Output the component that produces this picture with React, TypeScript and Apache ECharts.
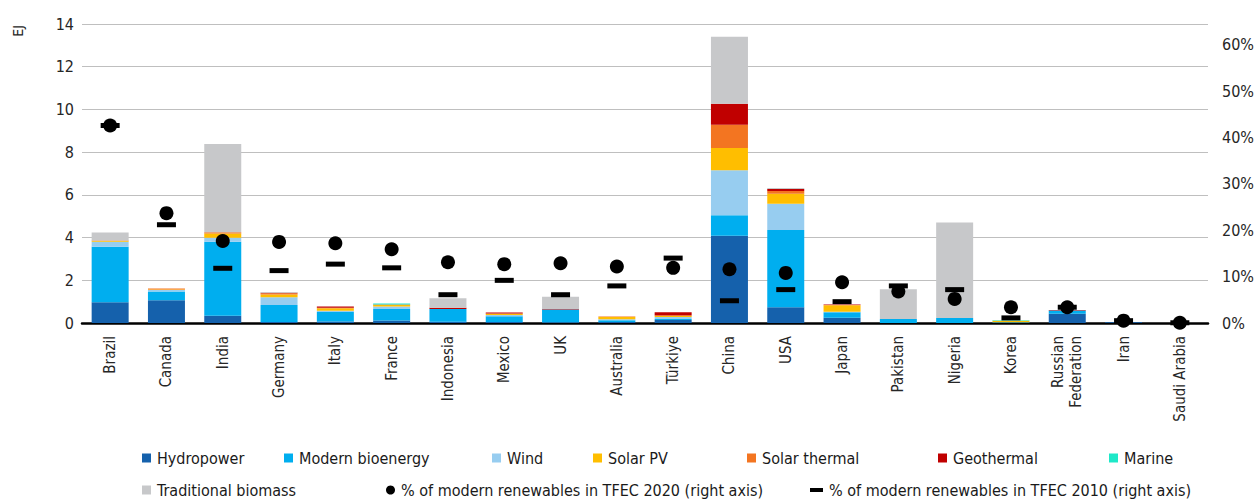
import React, { useEffect, useRef } from 'react';
import * as echarts from 'echarts';

const categories = ['Brazil', 'Canada', 'India', 'Germany', 'Italy', 'France', 'Indonesia', 'Mexico', 'UK', 'Australia', 'Türkiye', 'China', 'USA', 'Japan', 'Pakistan', 'Nigeria', 'Korea', 'Russian\nFederation', 'Iran', 'Saudi Arabia'];

const hydropower = [0.97, 1.07, 0.34, 0.05, 0.07, 0.12, 0.06, 0.05, 0.03, 0.05, 0.14, 4.09, 0.74, 0.25, 0, 0, 0.01, 0.43, 0.04, 0];
const modernBioenergy = [2.6, 0.4, 3.46, 0.79, 0.44, 0.54, 0.6, 0.27, 0.6, 0.08, 0.05, 0.95, 3.61, 0.25, 0.19, 0.23, 0.03, 0.15, 0, 0];
const wind = [0.23, 0.08, 0.19, 0.36, 0.06, 0.11, 0, 0.06, 0, 0.05, 0.09, 2.11, 1.23, 0.03, 0, 0, 0, 0, 0, 0];
const solarPV = [0.04, 0.02, 0.2, 0.13, 0.12, 0.08, 0, 0.05, 0, 0.1, 0.05, 1.04, 0.47, 0.3, 0, 0, 0.06, 0, 0, 0];
const solarThermal = [0.02, 0.05, 0.06, 0.06, 0.02, 0.01, 0, 0.01, 0, 0.03, 0.03, 1.09, 0.13, 0.01, 0, 0, 0, 0, 0, 0];
const geothermal = [0, 0, 0, 0.03, 0.06, 0.01, 0.05, 0.05, 0.02, 0, 0.14, 0.99, 0.09, 0.03, 0, 0, 0, 0.03, 0, 0];
const marine = [0, 0, 0, 0, 0, 0.04, 0, 0, 0, 0, 0, 0, 0, 0, 0, 0, 0.03, 0, 0, 0];
const traditionalBiomass = [0.38, 0, 4.13, 0.03, 0, 0, 0.45, 0, 0.58, 0, 0, 3.13, 0.05, 0, 1.39, 4.48, 0, 0, 0, 0];

const share2020 = [42.6, 23.7, 17.7, 17.5, 17.2, 15.9, 13.1, 12.7, 12.9, 12.2, 11.9, 11.6, 10.8, 8.8, 6.8, 5.2, 3.4, 3.4, 0.5, 0.05];
const share2010 = [42.6, 21.2, 11.8, 11.3, 12.7, 11.9, 6.1, 9.2, 6.1, 8.0, 14.0, 4.8, 7.2, 4.6, 8.0, 7.2, 1.1, 3.4, 0.5, 0.05];

const leftTicks = [0, 2, 4, 6, 8, 10, 12, 14];
const rightTicks = [0, 10, 20, 30, 40, 50, 60];

const FONT = '"Liberation Sans Narrow", "DejaVu Sans Condensed", "Noto Sans", sans-serif';

export default function App() {
  const ref = useRef<HTMLDivElement>(null);
  useEffect(() => {
    document.body.style.margin = '0';
    const chart = echarts.init(ref.current!, null, { renderer: 'svg' });

    const barDefs = [
      { name: 'Hydropower', data: hydropower, color: '#1561ac' },
      { name: 'Modern bioenergy', data: modernBioenergy, color: '#00aeef' },
      { name: 'Wind', data: wind, color: '#97cdf0' },
      { name: 'Solar PV', data: solarPV, color: '#ffbe00' },
      { name: 'Solar thermal', data: solarThermal, color: '#f37521' },
      { name: 'Geothermal', data: geothermal, color: '#c00000' },
      { name: 'Marine', data: marine, color: '#1ee8c8' },
      { name: 'Traditional biomass', data: traditionalBiomass, color: '#c7c8ca' },
    ];

    const n2020 = '% of modern renewables in TFEC 2020 (right axis)';
    const n2010 = '% of modern renewables in TFEC 2010 (right axis)';

    const legendDefs = [
      { name: 'Hydropower', left: 142, top: 450, icon: 'rect', w: 9, h: 9 },
      { name: 'Modern bioenergy', left: 284, top: 450, icon: 'rect', w: 9, h: 9 },
      { name: 'Wind', left: 492, top: 450, icon: 'rect', w: 9, h: 9 },
      { name: 'Solar PV', left: 593, top: 450, icon: 'rect', w: 9, h: 9 },
      { name: 'Solar thermal', left: 747, top: 450, icon: 'rect', w: 9, h: 9 },
      { name: 'Geothermal', left: 938, top: 450, icon: 'rect', w: 9, h: 9 },
      { name: 'Marine', left: 1109, top: 450, icon: 'rect', w: 9, h: 9 },
      { name: 'Traditional biomass', left: 142, top: 482, icon: 'rect', w: 9, h: 9 },
      { name: n2020, left: 386, top: 482, icon: 'circle', w: 9, h: 9 },
      { name: n2010, left: 810, top: 482, icon: 'rect', w: 13, h: 4 },
    ];

    chart.setOption({
      animation: false,
      textStyle: { fontFamily: FONT },
      grid: { left: 82, right: 50, top: 24, bottom: 177, containLabel: false },
      legend: legendDefs.map((l) => ({
        data: [{ name: l.name, icon: l.icon }],
        left: l.left,
        top: l.top,
        padding: 0,
        itemWidth: l.w,
        itemHeight: l.h,
        selectedMode: false,
        textStyle: { fontSize: 16, fontFamily: FONT, color: '#1a1a1a', padding: [0, 0, 0, 1] },
      })),
      xAxis: {
        type: 'category',
        data: categories,
        axisTick: { show: false },
        axisLine: { lineStyle: { color: '#000', width: 2.5 } },
        axisLabel: {
          rotate: 90,
          interval: 0,
          margin: 13,
          fontSize: 15,
          fontFamily: FONT,
          color: '#262626',
          lineHeight: 18,
        },
      },
      yAxis: [
        {
          type: 'value',
          min: leftTicks[0],
          max: leftTicks[leftTicks.length - 1],
          interval: 2,
          axisLine: { show: false },
          axisTick: { show: false },
          splitLine: { lineStyle: { color: '#bfbfbf', width: 1.2 } },
          axisLabel: { fontSize: 16, fontFamily: FONT, color: '#262626', margin: 8 },
        },
        {
          type: 'value',
          min: rightTicks[0],
          max: 64.5,
          interval: 10,
          axisLine: { show: false },
          axisTick: { show: false },
          splitLine: { show: false },
          axisLabel: {
            fontSize: 16,
            fontFamily: FONT,
            color: '#262626',
            margin: 14,
            showMaxLabel: false,
            formatter: (v: number) => (rightTicks.indexOf(Math.round(v)) >= 0 && Math.abs(v - Math.round(v)) < 1e-6 ? `${Math.round(v)}%` : ''),
          },
        },
      ],
      graphic: [
        {
          type: 'text',
          x: 18,
          y: 31,
          rotation: Math.PI / 2,
          style: { text: 'EJ', fontSize: 14, fontFamily: FONT, fill: '#262626', align: 'center', verticalAlign: 'middle' },
        },
      ],
      series: [
        ...barDefs.map((b) => ({
          name: b.name,
          type: 'bar',
          stack: 'total',
          barWidth: 37,
          data: b.data,
          itemStyle: { color: b.color },
        })),
        {
          name: n2010,
          type: 'scatter',
          yAxisIndex: 1,
          symbol: 'rect',
          symbolSize: [19, 5],
          data: share2010,
          itemStyle: { color: '#000', opacity: 1 },
          z: 5,
        },
        {
          name: n2020,
          type: 'scatter',
          yAxisIndex: 1,
          symbol: 'circle',
          symbolSize: 14,
          data: share2020,
          itemStyle: { color: '#000', opacity: 1 },
          z: 6,
        },
      ],
    });
    return () => chart.dispose();
  }, []);
  return <div ref={ref} style={{ width: 1258, height: 500 }} />;
}
